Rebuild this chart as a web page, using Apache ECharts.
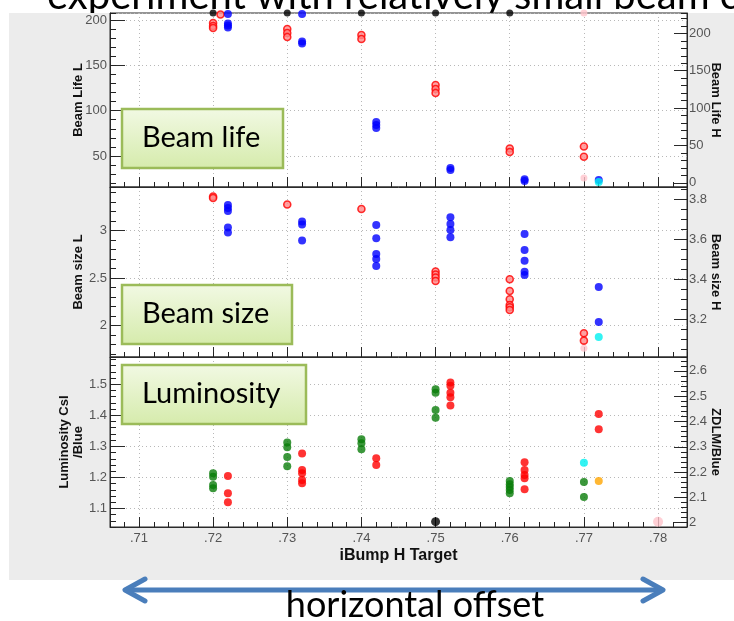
<!DOCTYPE html>
<html>
<head>
<meta charset="utf-8">
<script src="https://cdn.jsdelivr.net/npm/echarts@6/dist/echarts.min.js"></script>
<style>
  html, body { margin: 0; padding: 0; background: #fff; }
  #chart { width: 734px; height: 621px; }
</style>
</head>
<body>
<div id="chart"></div>
<script>
// iBump H target scan: beam life, beam size and luminosity for each setting

const xRange = [0.7061, 0.7839];

// --- Beam life (L on left axis, H on right axis) ---
const lifeRangeL = [15.8, 207.7];
const lifeRangeH = [-5.6, 227.2];
const lifeL = [
  [0.72, 196.7], [0.72, 193.4], [0.72, 191.2], [0.721, 206],
  [0.73, 190.1], [0.73, 185.7], [0.73, 181.3],
  [0.74, 183.5], [0.74, 179.0],
  [0.75, 128.3], [0.75, 123.9], [0.75, 119.5],
  [0.76, 58.3], [0.76, 54.4],
  [0.77, 60.5], [0.77, 49.2]
];
const lifeH = [
  [0.722, 226], [0.722, 213.1], [0.722, 210.4], [0.722, 207.8],
  [0.732, 225.8], [0.732, 189.0], [0.732, 186.3],
  [0.742, 81.3], [0.742, 77.3], [0.742, 73.2],
  [0.752, 19.7], [0.752, 17.1],
  [0.762, 4.9], [0.762, 2.3],
  [0.772, 3.6]
];
const lifeBlack = [[0.72, 207.7], [0.73, 207.7], [0.74, 207.7], [0.75, 207.7], [0.76, 207.7]];
const lifePink = [[0.77, 207.7], [0.77, 25.7]];
const lifeCyan = [[0.772, 1.0]];

// --- Beam size ---
const sizeRangeL = [1.67, 3.46];
const sizeRangeH = [3.012, 3.86];
const sizeL = [
  [0.72, 3.36], [0.72, 3.344],
  [0.73, 3.276],
  [0.74, 3.228],
  [0.75, 2.571], [0.75, 2.539], [0.75, 2.507], [0.75, 2.47],
  [0.76, 2.488], [0.76, 2.365], [0.76, 2.278], [0.76, 2.218], [0.76, 2.194], [0.76, 2.165],
  [0.77, 1.92], [0.77, 1.842]
];
const sizeH = [
  [0.722, 3.770], [0.722, 3.755], [0.722, 3.740], [0.722, 3.658], [0.722, 3.633],
  [0.732, 3.688], [0.732, 3.673], [0.732, 3.593],
  [0.742, 3.670], [0.742, 3.604], [0.742, 3.526], [0.742, 3.501], [0.742, 3.466],
  [0.752, 3.709], [0.752, 3.675], [0.752, 3.645], [0.752, 3.609],
  [0.762, 3.625], [0.762, 3.546], [0.762, 3.492], [0.762, 3.437], [0.762, 3.421],
  [0.772, 3.361], [0.772, 3.187]
];
const sizePink = [[0.77, 1.762]];
const sizeCyan = [[0.772, 3.112]];

// --- Luminosity (CsI/Blue on left, ZDLM/Blue on right) ---
const lumiRangeL = [1.04, 1.588];
const lumiRangeH = [1.983, 2.655];
const lumiCsI = [
  [0.72, 1.213], [0.72, 1.202], [0.72, 1.175], [0.72, 1.165],
  [0.73, 1.312], [0.73, 1.297], [0.73, 1.266], [0.73, 1.236],
  [0.74, 1.323], [0.74, 1.310], [0.74, 1.291],
  [0.75, 1.484], [0.75, 1.473], [0.75, 1.417], [0.75, 1.392],
  [0.76, 1.188], [0.76, 1.178], [0.76, 1.169], [0.76, 1.159], [0.76, 1.149],
  [0.77, 1.185], [0.77, 1.137]
];
const lumiZDLM = [
  [0.722, 2.185], [0.722, 2.116], [0.722, 2.081],
  [0.732, 2.274], [0.732, 2.208], [0.732, 2.195], [0.732, 2.169], [0.732, 2.156],
  [0.742, 2.255], [0.742, 2.228],
  [0.752, 2.554], [0.752, 2.541], [0.752, 2.514], [0.752, 2.496], [0.752, 2.463],
  [0.762, 2.239], [0.762, 2.208], [0.762, 2.189], [0.762, 2.176], [0.762, 2.132],
  [0.772, 2.430], [0.772, 2.369]
];
const lumiCyan = [[0.77, 2.237]];
const lumiOrange = [[0.772, 2.165]];
const lumiBlack = [[0.75, 2.004]];
const lumiPink = [[0.78, 2.004]];

// axis titles and panel captions
const xName = 'iBump H Target';
const yNamesL = ['Beam Life L', 'Beam size L', 'Luminosity CsI\n/Blue'];
const yNamesR = ['Beam Life H', 'Beam size H', 'ZDLM/Blue'];
const captions = ['Beam life', 'Beam size', 'Luminosity'];
const headline = 'experiment with relatively small beam c';
const footnote = 'horizontal offset';

// major / minor tick steps for each panel: [left, right]
const majorStep = [[50, 50], [0.5, 0.2], [0.1, 0.1]];
const minorStep = [[10, 10], [0.1, 0.05], [0.02, 0.02]];
const xMajorStep = 0.01, xMinorStep = 0.002;

const rangesL = [lifeRangeL, sizeRangeL, lumiRangeL];
const rangesR = [lifeRangeH, sizeRangeH, lumiRangeH];

const AX = '#2b2b2b';
const MINOR = '#222';
const LABEL = '#555';
const FONT = 'Liberation Sans';
const GRIDLINE = { color: '#b8b8b8', type: [1, 3], width: 1 };

const grids = [
  { top: 13, height: 174 },
  { top: 187, height: 170 },
  { top: 357, height: 170 }
].map(g => ({
  left: 110, right: 47, top: g.top, height: g.height,
  show: true, backgroundColor: '#fff', borderColor: AX, borderWidth: 1,
  outerBoundsMode: 'none', containLabel: false
}));

// number of intervals that gives the wanted step over a range
function splits(range, step) {
  return Math.max(1, Math.round((range[1] - range[0]) / step));
}

const xAxes = [];
const yAxes = [];
for (let g = 0; g < 3; g++) {
  // major x axis
  xAxes.push({
    type: 'value', gridIndex: g, position: 'bottom',
    min: xRange[0], max: xRange[1], splitNumber: splits(xRange, xMajorStep),
    axisLine: { show: true, onZero: false, lineStyle: { color: AX } },
    axisTick: { show: true, inside: true, length: 10, lineStyle: { color: AX } },
    axisLabel: {
      show: g === 2, color: LABEL, fontSize: 13, fontFamily: FONT, margin: 5,
      showMinLabel: false, showMaxLabel: false,
      formatter: v => v.toFixed(2).replace(/^0/, '')
    },
    splitLine: { show: true, lineStyle: GRIDLINE },
    name: g === 2 ? xName : '', nameLocation: 'middle', nameGap: 21, nameMoveOverlap: false,
    nameTextStyle: { color: '#111', fontWeight: 'bold', fontSize: 16, fontFamily: FONT }
  });
  // minor x ticks
  xAxes.push({
    type: 'value', gridIndex: g, position: 'bottom',
    min: xRange[0], max: xRange[1], splitNumber: splits(xRange, xMinorStep),
    axisLine: { show: false, onZero: false },
    axisTick: { show: true, inside: true, length: 5, lineStyle: { color: MINOR, width: 1 } },
    axisLabel: { show: false }, splitLine: { show: false }
  });

  const sides = [
    { pos: 'left', range: rangesL[g], major: majorStep[g][0], minor: minorStep[g][0],
      name: yNamesL[g], rot: 90, tick: 15, grid: true, margin: 3, gap: 25 },
    { pos: 'right', range: rangesR[g], major: majorStep[g][1], minor: minorStep[g][1],
      name: yNamesR[g], rot: -90, tick: 13, grid: false, margin: 2, gap: 22 }
  ];
  sides.forEach(s => {
    yAxes.push({
      type: 'value', gridIndex: g, position: s.pos,
      min: s.range[0], max: s.range[1], splitNumber: splits(s.range, s.major),
      axisLine: { show: true, onZero: false, lineStyle: { color: AX } },
      axisTick: { show: true, inside: true, length: s.tick, lineStyle: { color: AX } },
      axisLabel: {
        show: true, color: LABEL, fontSize: 13, fontFamily: FONT, margin: s.margin,
        showMinLabel: false, showMaxLabel: false
      },
      splitLine: { show: s.grid, lineStyle: GRIDLINE },
      name: s.name, nameLocation: 'middle', nameRotate: s.rot, nameGap: s.gap,
      nameMoveOverlap: false,
      nameTextStyle: { color: '#111', fontWeight: 'bold', fontSize: 13, fontFamily: FONT, lineHeight: 14 }
    });
    yAxes.push({
      type: 'value', gridIndex: g, position: s.pos,
      min: s.range[0], max: s.range[1], splitNumber: splits(s.range, s.minor),
      axisLine: { show: false, onZero: false },
      axisTick: { show: true, inside: true, length: 6, lineStyle: { color: MINOR, width: 1 } },
      axisLabel: { show: false }, splitLine: { show: false }
    });
  });
}

// panel g: x axis 2g, left y 4g, right y 4g+2
function pts(data, g, side, color, size, extra) {
  return Object.assign({
    type: 'scatter', data: data, xAxisIndex: 2 * g, yAxisIndex: 4 * g + (side === 'R' ? 2 : 0),
    symbol: 'circle', symbolSize: size, clip: false, silent: true,
    itemStyle: { color: color }
  }, extra || {});
}
const ring = { itemStyle: { color: '#ff8a8a', borderColor: '#ff0000', borderWidth: 1.6 } };

const series = [
  pts(lifeBlack, 0, 'L', '#000', 7),
  pts(lifePink, 0, 'L', '#ffc4cc', 7),
  pts(lifeL, 0, 'L', '#ff0000', 7, ring),
  pts(lifeH, 0, 'R', '#0000ff', 8),
  pts(lifeCyan, 0, 'R', '#00f0f0', 8),

  pts(sizePink, 1, 'L', '#ffc4cc', 7),
  pts(sizeL, 1, 'L', '#ff0000', 7, ring),
  pts(sizeH, 1, 'R', '#0000ff', 8),
  pts(sizeCyan, 1, 'R', '#00f0f0', 8),

  pts(lumiCsI, 2, 'L', '#0a7d0a', 8),
  pts(lumiZDLM, 2, 'R', '#ff0000', 8),
  pts(lumiCyan, 2, 'R', '#00f0f0', 8),
  pts(lumiOrange, 2, 'R', '#ffa500', 8),
  pts(lumiBlack, 2, 'R', '#000', 9),
  pts(lumiPink, 2, 'R', '#ffc4cc', 10)
];

// caption boxes
const boxes = [
  { x: 122, y: 109, w: 161, h: 59, ty: 138 },
  { x: 122, y: 285, w: 170, h: 59, ty: 314 },
  { x: 122, y: 365, w: 184, h: 59, ty: 394 }
];
const boxFill = () => new echarts.graphic.LinearGradient(0, 0, 0, 1, [
  { offset: 0, color: '#f2f9e4' }, { offset: 1, color: '#d5ebab' }
]);

const graphic = [
  { type: 'text', x: 47, y: -4, z: -2,
    style: { text: headline, font: '40px Lato', fill: '#000',
      align: 'left', textAlign: 'left', verticalAlign: 'middle', textVerticalAlign: 'middle' } },
  { type: 'rect', shape: { x: 9, y: 13, width: 725, height: 567 }, z: -1,
    style: { fill: '#ececec' } }
];
boxes.forEach((b, i) => {
  graphic.push({ type: 'rect', z: 100,
    shape: { x: b.x, y: b.y, width: b.w, height: b.h },
    style: { fill: boxFill(), stroke: '#9bbb59', lineWidth: 2.5 } });
  graphic.push({ type: 'text', z: 101, x: 142, y: b.ty,
    style: { text: captions[i], font: '29px Lato', fill: '#000',
      align: 'left', textAlign: 'left', verticalAlign: 'middle', textVerticalAlign: 'middle' } });
});

// double-headed arrow under the x axis
const ARROW = '#4a7ebb';
graphic.push(
  { type: 'line', z: 100, shape: { x1: 126, y1: 590, x2: 661, y2: 590 },
    style: { stroke: ARROW, lineWidth: 5 } },
  { type: 'polyline', z: 100, shape: { points: [[145, 579], [125, 590], [145, 601]] },
    style: { stroke: ARROW, lineWidth: 5, fill: null, lineJoin: 'round', lineCap: 'round' } },
  { type: 'polyline', z: 100, shape: { points: [[643, 579], [663, 590], [643, 601]] },
    style: { stroke: ARROW, lineWidth: 5, fill: null, lineJoin: 'round', lineCap: 'round' } },
  { type: 'text', z: 100, x: 415, y: 605,
    style: { text: footnote, font: '36px Lato', fill: '#000',
      align: 'center', textAlign: 'center', verticalAlign: 'middle', textVerticalAlign: 'middle' } }
);

const chart = echarts.init(document.getElementById('chart'), null, { renderer: 'canvas' });
chart.setOption({
  animation: false,
  backgroundColor: '#fff',
  grid: grids,
  xAxis: xAxes,
  yAxis: yAxes,
  series: series,
  graphic: graphic
});
</script>
</body>
</html>
